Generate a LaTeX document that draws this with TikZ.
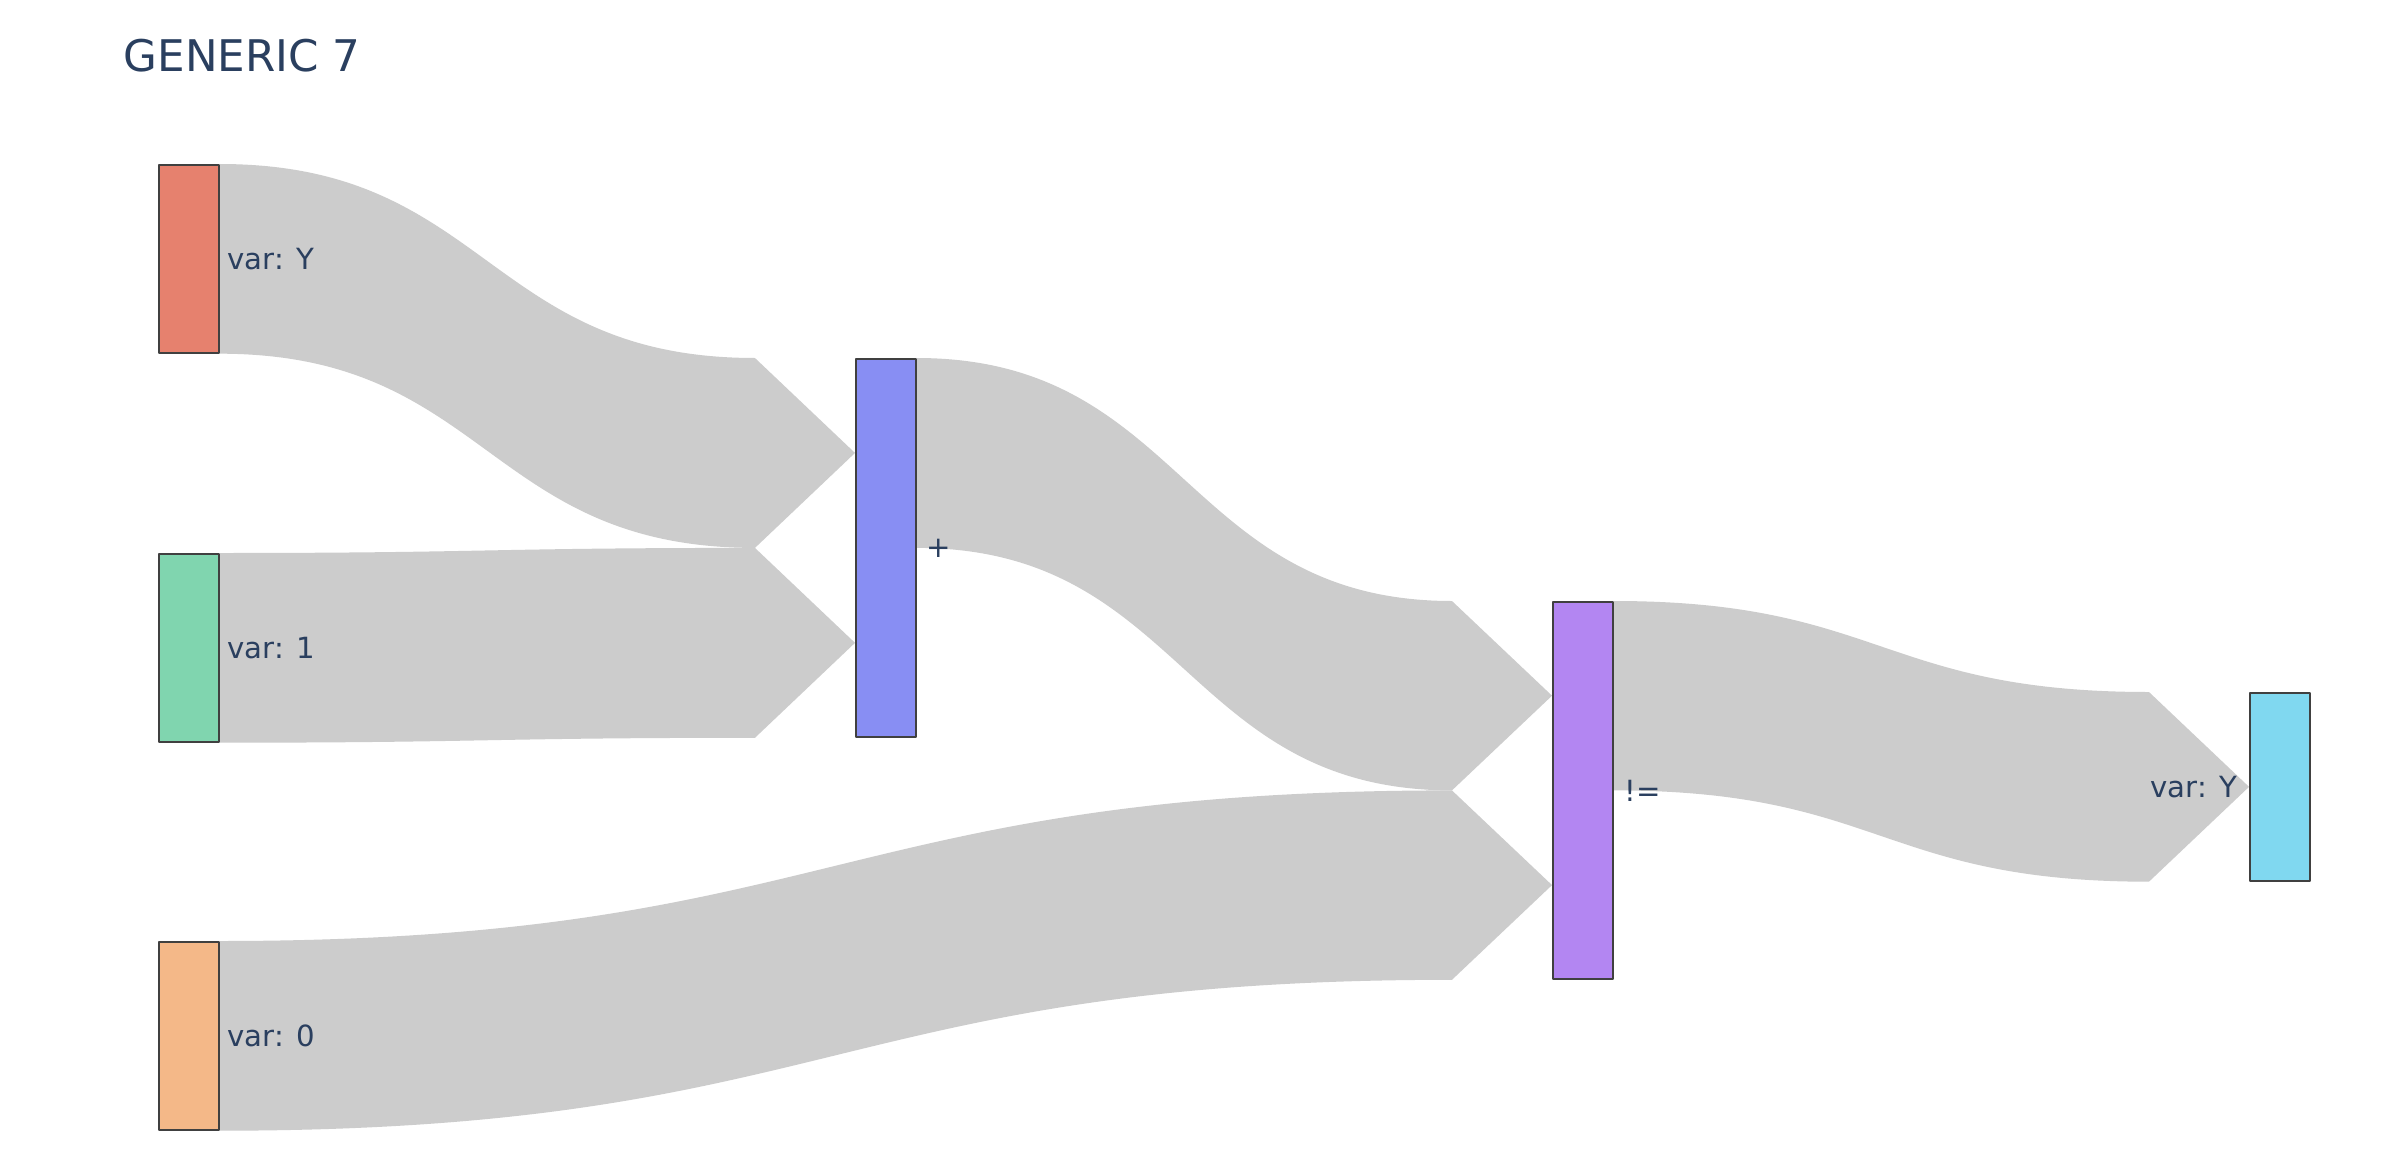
\documentclass[tikz,border=0pt]{standalone}
\usepackage{fontspec}
\setmainfont{DejaVu Sans}
\usetikzlibrary{calc,backgrounds}

\definecolor{txtblue}{HTML}{2A3F5F}
\definecolor{flowgray}{HTML}{CCCCCC}
\definecolor{cY}{HTML}{E6816E}
\definecolor{cOne}{HTML}{80D5AF}
\definecolor{cZero}{HTML}{F4B888}
\definecolor{cPlus}{HTML}{888EF3}
\definecolor{cNeq}{HTML}{B386F2}
\definecolor{cOut}{HTML}{80D8F0}

% flow band: #1,#2 top/bottom on the source, #3,#4 top/bottom on the target
\newcommand{\sflow}[4]{%
  \fill[flow] let \p1=(#1), \p2=(#2), \p3=(#3), \p4=(#4),
      \p5=($(\p1)!0.5!(\p3)$) in
    (\p1) .. controls (\x5-0.5cm,\y1) and (\x5-0.5cm,\y3) .. (\x3-1cm,\y3)
    -- ($(\p3)!0.5!(\p4)$) -- (\x3-1cm,\y4)
    .. controls (\x5-0.5cm,\y4) and (\x5-0.5cm,\y2) .. (\p2) -- cycle;}

\begin{document}
\begin{tikzpicture}[x=0.01cm, y=-0.01cm, line join=round]

    % Styles
    \tikzset{block/.style={draw=black!75, line width=0.45pt, rectangle, inner sep=0pt,
                           minimum width=0.6cm, minimum height=1.88cm, anchor=north west},
             flow/.style={fill=flowgray},
             lbl/.style={text=txtblue, inner sep=0pt, font=\fontsize{8.3}{10}\selectfont}}

    \useasboundingbox (0,0) rectangle (2382,1176);

    % Title
    \node[text=txtblue, anchor=base west, inner sep=0pt, font=\fontsize{12.4}{15}\selectfont]
        (title) at (123,72) {GENERIC 7};

    % Nodes
    \node[block, fill=cY]    (vy)  at (158,164) {};
    \node[block, fill=cOne]  (v1)  at (158,553) {};
    \node[block, fill=cZero] (v0)  at (158,941) {};
    \node[block, fill=cPlus, minimum height=3.78cm] (pl) at (855,358) {};
    \node[block, fill=cNeq, minimum height=3.77cm]  (ne) at (1552,601) {};
    \node[block, fill=cOut]  (out) at (2249,692) {};

    % Labels
    \node[lbl, anchor=west] (vyl)  at ([xshift=0.07cm]vy.east) {var: Y};
    \node[lbl, anchor=west] (v1l)  at ([xshift=0.07cm]v1.east) {var: 1};
    \node[lbl, anchor=west] (v0l)  at ([xshift=0.07cm]v0.east) {var: 0};
    \node[lbl, anchor=west] (pll)  at ([xshift=0.09cm]pl.east) {+};
    \node[lbl, anchor=west] (nel)  at ([xshift=0.1cm]ne.east) {!=};
    \node[lbl, anchor=east] (outl) at ([xshift=-0.11cm]out.west) {var: Y};

    % Flows (behind the nodes)
    \begin{scope}[on background layer]
        \fill[white] (0,0) rectangle (2382,1176);
        \sflow{vy.north east}{vy.south east}{pl.north west}{pl.west}
        \sflow{v1.north east}{v1.south east}{pl.west}{pl.south west}
        \sflow{pl.north east}{pl.east}{ne.north west}{ne.west}
        \sflow{v0.north east}{v0.south east}{ne.west}{ne.south west}
        \sflow{ne.north east}{ne.east}{out.north west}{out.south west}
    \end{scope}

\end{tikzpicture}
\end{document}
